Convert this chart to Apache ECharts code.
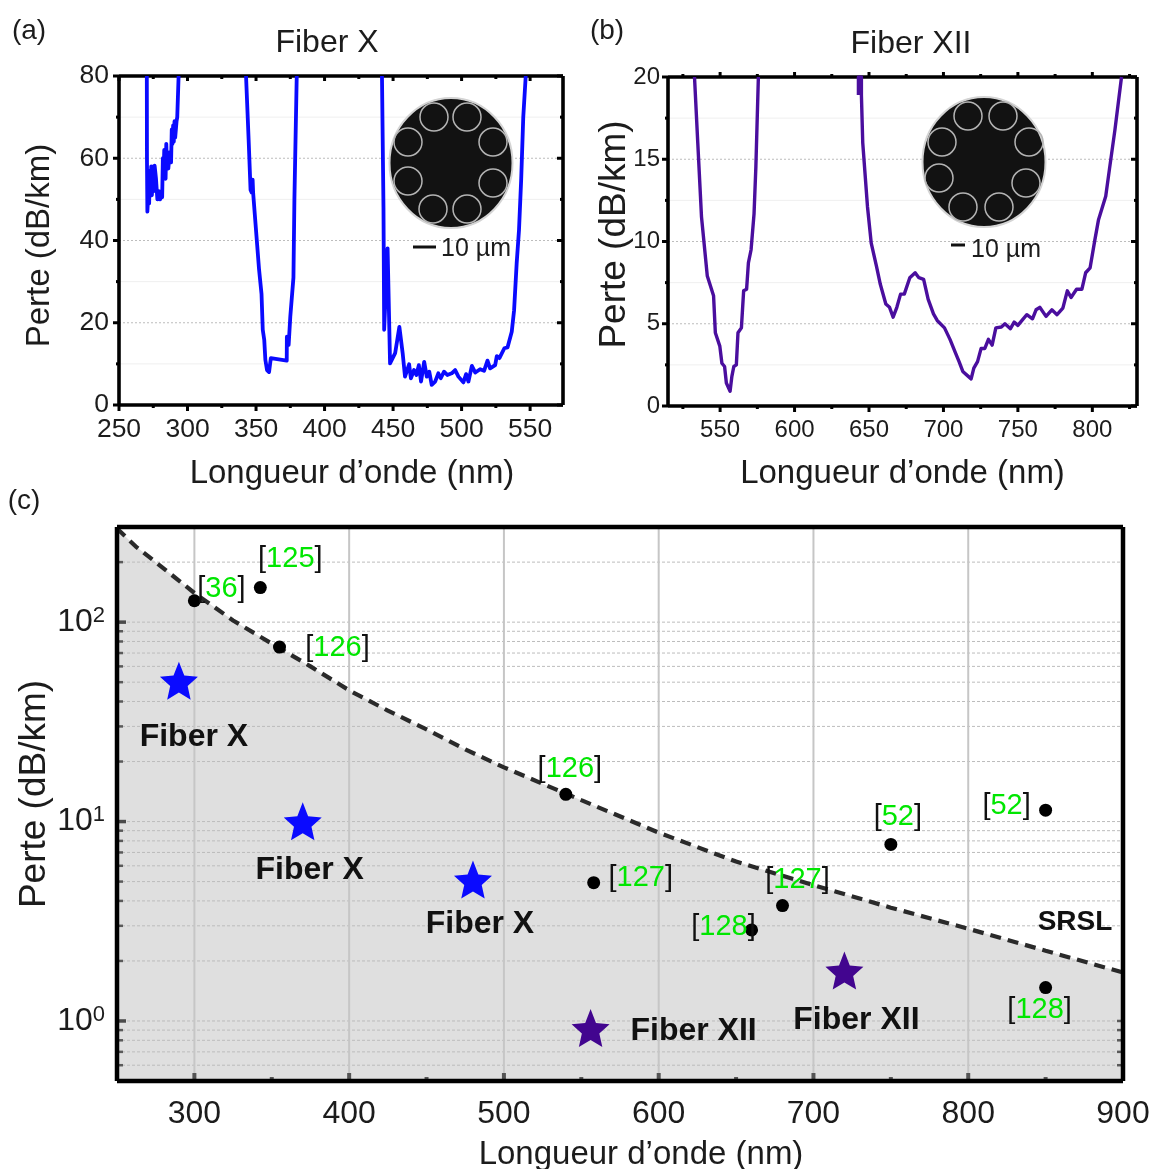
<!DOCTYPE html>
<html><head><meta charset="utf-8">
<style>html,body{margin:0;padding:0;background:#fff}#c{width:1154px;height:1169px}</style>
<script src="https://cdn.jsdelivr.net/npm/echarts@6/dist/echarts.min.js"></script>
</head><body><div id="c"></div>
<script>
// ---------- data ----------
const fiberXBandUV = [[270.3,80],[270.4,60],[270.7,47],[271,46.7],[271.5,52],[272,49],[272.5,57],[273,51],[273.5,58],[274,51],[275,58],[275.5,52],[276,58.2],[277,55],[278,50],[279,52],[280,50],[281,52],[281.5,50.5],[282,60],[282.5,55],[283,62],[284,55],[284.5,63.5],[285,58],[286,57.5],[287,61.5],[288,59],[288.5,67],[289,63.5],[289.5,68],[290,64],[290.5,69],[291,65],[292,69],[292.5,70],[293,75],[293.5,80]];
const fiberXBandMid = [[342.7,80],[344.6,64.5],[346,52.3],[346.8,51.7],[347.5,54.8],[347.9,51.5],[349,51.5],[350.8,39],[352.2,33],[354,27],[354.9,18.3],[356,15.8],[356.8,11],[358,8.5],[359.5,8],[360.8,11.4],[372.4,10.8],[372.5,16.6],[373.8,14.6],[375,21.5],[377.3,31],[378,50],[379.7,80]];
const fiberXBandVis = [[441.9,80],[443,48],[443.5,18.3],[444.5,18.3],[446,38.1],[447.8,10.1],[451.5,12.6],[454.6,19],[457,12.6],[458.7,6.9],[461.7,9.9],[463,6.5],[465.3,8.5],[467,7.3],[468.8,9.7],[470.4,5.7],[472.7,10.5],[474.6,6.9],[476.4,8.1],[478.2,4.9],[480.7,5.7],[483,7.7],[484.8,6.5],[487.2,8.1],[489.6,7.3],[492.8,7.7],[495.3,8.5],[497.7,6.9],[501.3,5.5],[503.3,7.5],[505,5.7],[507.5,9.5],[510,7.9],[513.5,8.7],[516.4,8.3],[518.9,10.8],[520.8,8.9],[524.5,9.7],[525.7,11.9],[527.6,11.4],[531.2,13.8],[533.5,14],[536.6,17.8],[538.3,23],[540.2,34.5],[541.9,42.6],[543.5,55],[545,70],[546.8,80]];
const fiberXIIBandGreen = [[532.8,20],[535,16],[537.5,11.5],[541.4,7.9],[545.6,6.7],[546.8,4.45],[549.8,3.64],[551.2,2.6],[553,2.4],[554.2,1.4],[556.7,0.9],[557.9,1.8],[559.2,2.4],[560.9,2.5],[562,4.45],[564.3,4.75],[565.8,7],[567.8,7.1],[569,8.7],[570.8,9.5],[572.8,11.7],[574,14.5],[575.7,20]];
const fiberXIIBandRed = [[642.9,18.9],[642.9,20],[644.9,20],[644.9,18.9],[645.8,16],[649,12.1],[651.5,9.9],[655,8.5],[657.6,7.4],[661.3,6.2],[663.8,6],[666.2,5.4],[668.7,6],[671.2,6.8],[673.7,6.8],[677.4,7.8],[681,8.1],[683.5,7.8],[686.7,7.7],[689.7,6.5],[693.3,5.6],[695.8,5.2],[700.7,4.75],[704.4,4.05],[708,3.25],[710.5,2.7],[713,2.1],[716.7,1.8],[718.6,1.65],[720.4,2.3],[722.9,2.7],[725.3,3.5],[727.8,3.5],[730.2,4.05],[732.7,3.7],[735.2,4.75],[738.9,4.8],[741.3,5],[745,4.7],[747.5,5.1],[750,4.9],[753.6,5.3],[756,5.55],[759.8,5.3],[762.2,5.85],[764.7,6],[768.9,5.45],[772.8,5.85],[776.3,5.55],[780.2,5.95],[783.2,7],[785.7,6.6],[789.4,7.1],[793,7.1],[795.5,8.1],[798.5,8.4],[801.7,10.1],[804.1,11.3],[809,12.75],[811.5,14.4],[815.2,16.8],[819.6,20]];
const srslCurve = [[250,295],[262,240],[275,200],[300,140],[325,102],[350,78],[375,60],[400,45.5],[425,36],[450,29],[475,23],[500,18.7],[550,12.8],[600,8.8],[650,6.3],[700,4.8],[750,3.7],[800,2.9],[850,2.25],[900,1.75]];
const refPoints = [[300,128],[342.6,149],[355,75],[540,13.7],[558,4.94],[680,3.79],[660,2.86],[750,7.68],[850,11.4],[850,1.47]];
const refLabels = ['36','125','126','126','127','127','128','52','52','128'];
const fiberXStars = [[290,49.7],[370,9.8],[480,5]];
const fiberXIIStars = [[556,0.9],[720,1.75]];
const fiberXName = 'Fiber X', fiberXIIName = 'Fiber XII';
const xTicksA = [250,300,350,400,450,500,550], xMinorA = [275,325,375,425,475,525];
const yTicksA = [0,20,40,60,80], yMinorA = [10,30,50,70];
const xTicksB = [550,600,650,700,750,800], xMinorB = [525,575,625,675,725,775,825];
const yTicksB = [0,5,10,15,20], yMinorB = [2.5,7.5,12.5,17.5];
const xTicksC = [300,400,500,600,700,800,900], xMinorC = [350,450,550,650,750,850];
const yTicksC = [1,10,100], yMinorC = [0.6,0.7,0.8,0.9,2,3,4,5,6,7,8,9,20,30,40,50,60,70,80,90,200];
// ---------- layout ----------
const FONT = '"Liberation Sans", Arial, sans-serif';
const INK = '#1c1c1c';
const STAR = 'path://M50,0 L63.5,34 L97.6,37.1 L71.9,59.7 L79.4,93 L50,75.6 L20.6,93 L28.1,59.7 L2.4,37.1 L36.5,34 Z';
const refOffsets = [[27,-12],[30,-29],[58,1],[4,-25],[47,-5],[15,-26],[-28,-3],[7,-27],[-39,-4],[-6,22]];
const xStarOffsets = [[15,56],[7,49],[7,45]];
const xiiStarOffsets = [[103,3],[12,50]];
const STYLES = {
  frame:{stroke:'#000',lineWidth:3.6},
  frameC:{stroke:'#000',lineWidth:4.5},
  tick:{stroke:'#000',lineWidth:3},
  major:{stroke:'#bdbdbd',lineWidth:1,lineDash:[2,2]},
  faint:{stroke:'#efefef',lineWidth:1},
  gridC:{stroke:'#bcbcbc',lineWidth:1,lineDash:[3,2]},
  vC:{stroke:'#c6c6c6',lineWidth:2},
  tickC:{stroke:'#4a4a4a',lineWidth:3.5},
  tickCm:{stroke:'#5a5a5a',lineWidth:2.5},
  tickCb:{stroke:'#555',lineWidth:4}
};
const styleNames = Object.keys(STYLES);
const S = n => styleNames.indexOf(n);

function rules(idx, list, z){
  return {type:'custom',xAxisIndex:idx,yAxisIndex:idx,silent:true,z:z,clip:false,animation:false,
    encode:{x:0,y:1},data:list,
    renderItem(p,api){
      const a=api.coord([api.value(0),api.value(1)]), b=api.coord([api.value(2),api.value(3)]);
      return {type:'line',shape:{x1:a[0],y1:a[1],x2:b[0]+api.value(4),y2:b[1]+api.value(5)},
        style:Object.assign({fill:null},STYLES[styleNames[api.value(6)]])};
    }};
}
function panelRules(x0,x1,y0,y1,xT,xM,yT,yM,topOut){
  const r=[];
  yM.forEach(v=>r.push([x0,v,x1,v,0,0,S('faint')]));
  yT.filter(v=>v>y0&&v<y1).forEach(v=>r.push([x0,v,x1,v,0,0,S('major')]));
  xT.forEach(v=>{r.push([v,y0,v,y0,0,6,S('tick')]);r.push([v,y1,v,y1,0,topOut?-5:5,S('tick')]);});
  xM.forEach(v=>{r.push([v,y0,v,y0,0,3,S('tick')]);r.push([v,y1,v,y1,0,topOut?-3:3,S('tick')]);});
  yT.forEach(v=>{r.push([x0,v,x0,v,-6,0,S('tick')]);r.push([x1,v,x1,v,-6,0,S('tick')]);});
  yM.forEach(v=>{r.push([x0,v,x0,v,-3,0,S('tick')]);r.push([x1,v,x1,v,-3,0,S('tick')]);});
  r.push([x0,y0,x1,y0,0,0,S('frame')],[x0,y1,x1,y1,0,0,S('frame')],[x0,y0,x0,y1,0,0,S('frame')],[x1,y0,x1,y1,0,0,S('frame')]);
  return r;
}
const XA=[250,574],YA=[0,80],XB=[515,830],YB=[0,20],XC=[250,900],YC=[0.5,300];
const rulesCunder=[];
yMinorC.concat(yTicksC).forEach(v=>rulesCunder.push([XC[0],v,XC[1],v,0,0,S('gridC')]));
xTicksC.slice(0,-1).forEach(v=>rulesCunder.push([v,YC[0],v,YC[1],0,0,S('vC')]));
const rulesCover=[];
yTicksC.forEach(v=>rulesCover.push([XC[0],v,XC[0],v,9,0,S('tickC')]));
yMinorC.concat([300]).forEach(v=>rulesCover.push([XC[0],v,XC[0],v,6,0,S('tickCm')]));
xTicksC.slice(0,-1).forEach(v=>rulesCover.push([v,YC[0],v,YC[0],0,-8,S('tickCb')]));
xMinorC.forEach(v=>rulesCover.push([v,YC[0],v,YC[0],0,-4,S('tickCb')]));
yMinorC.filter(v=>v<1.7).concat([1]).forEach(v=>rulesCover.push([XC[1],v,XC[1],v,-6,0,S('tickCm')]));
rulesCover.push([XC[0],YC[0],XC[1],YC[0],0,0,S('frameC')],[XC[0],YC[1],XC[1],YC[1],0,0,S('frameC')],[XC[0],YC[0],XC[0],YC[1],0,0,S('frameC')],[XC[1],YC[0],XC[1],YC[1],0,0,S('frameC')]);

const line=(idx,data,color)=>({type:'line',xAxisIndex:idx,yAxisIndex:idx,data,showSymbol:false,symbol:'none',z:3,
  lineStyle:{color,width:idx===0?3.8:3.4,join:'round'},itemStyle:{color},animation:false,silent:true,clip:true});

const axisBase=(fs)=>({axisTick:{show:false},axisLine:{show:false},splitLine:{show:false},minorSplitLine:{show:false},nameMoveOverlap:false,
  axisLabel:{fontFamily:FONT,fontSize:fs,color:INK,margin:11,hideOverlap:false}});
const nameStyle=(fs,padding)=>({fontFamily:FONT,fontSize:fs,color:INK,padding});

const refData=refPoints.map((p,i)=>({value:p,label:{show:true,position:'inside',offset:refOffsets[i],
  formatter:'{k|[}{g|'+refLabels[i]+'}{k|]}',rich:{k:{color:'#111',fontSize:29,fontFamily:FONT},g:{color:'#00e600',fontSize:29,fontFamily:FONT}}}}));
const star=(arr,offs,name,color)=>arr.map((p,i)=>({value:p,itemStyle:{color,opacity:1},label:{show:true,position:'inside',offset:offs[i],formatter:name,
  fontFamily:FONT,fontWeight:'bold',fontSize:32,color:'#111'}}));

function fiber(cx,cy,rings){
  const kids=[{type:'ellipse',shape:{cx,cy,rx:61.5,ry:65},style:{fill:'#121212',stroke:'#d4d4d4',lineWidth:2},z:20}];
  rings.forEach(r=>kids.push({type:'circle',shape:{cx:r[0],cy:r[1],r:14},style:{fill:null,stroke:'#b4b4b4',lineWidth:1.5},z:21}));
  return kids;
}
const text=(x,y,t,fs,extra)=>Object.assign({type:'text',x,y,z:30,style:Object.assign({text:t,fontFamily:FONT,fontSize:fs,fill:INK,textAlign:'center',textVerticalAlign:'middle'},extra||{})});

const graphic=[].concat(
  fiber(451,163,[[434,117],[467,117],[408,142],[493,142],[408,181],[493,183],[433,209],[467,209]]),
  fiber(984,162,[[968,116],[1003,116],[942,142],[1029,142],[939,178],[1026,183],[963,207],[999,207]]),
  [
   {type:'rect',shape:{x:413,y:245.5,width:23,height:3},style:{fill:'#111'},z:30},
   {type:'rect',shape:{x:951,y:243.5,width:14,height:3},style:{fill:'#111'},z:30},
   text(476,249,'10 µm',25),text(1006,250,'10 µm',25),
   text(29,31,'(a)',28),text(607,31,'(b)',28),text(24,501,'(c)',28),
   text(327,43,'Fiber X',32),text(911,44,'Fiber XII',32),
   text(1075,922,'SRSL',28,{fontWeight:'bold',fill:'#111'})
  ]);

const option={
  animation:false,backgroundColor:'#fff',textStyle:{fontFamily:FONT},
  grid:[
    {left:119,top:76,width:444,height:329,show:false,outerBoundsMode:'none'},
    {left:668,top:77,width:469,height:329,show:false,outerBoundsMode:'none'},
    {left:117,top:527,width:1006,height:554,show:false,outerBoundsMode:'none'}
  ],
  xAxis:[
    Object.assign(axisBase(26.5),{type:'value',gridIndex:0,min:XA[0],max:XA[1],position:'bottom',
      axisLabel:Object.assign(axisBase(26.5).axisLabel,{customValues:xTicksA}),
      name:'Longueur d’onde (nm)',nameLocation:'middle',nameGap:52,nameTextStyle:nameStyle(33,[0,0,0,22])}),
    Object.assign(axisBase(24),{type:'value',gridIndex:1,min:XB[0],max:XB[1],position:'bottom',
      axisLabel:Object.assign(axisBase(24).axisLabel,{customValues:xTicksB,margin:12}),
      name:'Longueur d’onde (nm)',nameLocation:'middle',nameGap:51,nameTextStyle:nameStyle(33)}),
    Object.assign(axisBase(32),{type:'value',gridIndex:2,min:XC[0],max:XC[1],position:'bottom',
      axisLabel:Object.assign(axisBase(32).axisLabel,{customValues:xTicksC,margin:17}),
      name:'Longueur d’onde (nm)',nameLocation:'middle',nameGap:57,nameTextStyle:nameStyle(33,[0,0,0,42])})
  ],
  yAxis:[
    Object.assign(axisBase(26.5),{type:'value',gridIndex:0,min:YA[0],max:YA[1],interval:20,
      axisLabel:Object.assign(axisBase(26.5).axisLabel,{margin:10}),
      name:'Perte (dB/km)',nameLocation:'middle',nameGap:63,nameTextStyle:nameStyle(33,[0,10,0,0])}),
    Object.assign(axisBase(24),{type:'value',gridIndex:1,min:YB[0],max:YB[1],interval:5,
      axisLabel:Object.assign(axisBase(24).axisLabel,{margin:8}),
      name:'Perte (dB/km)',nameLocation:'middle',nameGap:35,nameTextStyle:nameStyle(37,[0,0,0,14])}),
    Object.assign(axisBase(32),{type:'log',logBase:10,gridIndex:2,min:YC[0],max:YC[1],
      axisLabel:Object.assign(axisBase(32).axisLabel,{margin:12,
        formatter:v=>{const e=Math.log10(v);if(Math.abs(e-Math.round(e))>1e-6)return '';return '{b|10}{s|'+Math.round(e)+'}';},
        rich:{b:{fontSize:32,fontFamily:FONT,color:INK},s:{fontSize:22,fontFamily:FONT,color:INK,padding:[0,0,13,0]}}}),
      name:'Perte (dB/km)',nameLocation:'middle',nameGap:64,nameTextStyle:nameStyle(37,[0,0,0,20])})
  ],
  series:[
    rules(0,panelRules(XA[0],XA[1],YA[0],YA[1],xTicksA,xMinorA,yTicksA,yMinorA,false),2),
    line(0,fiberXBandUV,'#0a0aff'),line(0,fiberXBandMid,'#0a0aff'),line(0,fiberXBandVis,'#0a0aff'),
    rules(1,panelRules(XB[0],XB[1],YB[0],YB[1],xTicksB,xMinorB,yTicksB,yMinorB,true),2),
    line(1,fiberXIIBandGreen,'#4a0e9e'),line(1,fiberXIIBandRed,'#4a0e9e'),
    {type:'line',name:'SRSL fill',xAxisIndex:2,yAxisIndex:2,data:srslCurve,symbol:'none',showSymbol:false,z:1,silent:true,animation:false,
      lineStyle:{width:0},areaStyle:{color:'#dfdfdf',opacity:1,origin:'start'}},
    rules(2,rulesCunder,2),
    rules(2,rulesCover,5),
    {type:'line',name:'SRSL',xAxisIndex:2,yAxisIndex:2,data:srslCurve,symbol:'none',showSymbol:false,z:3,silent:true,animation:false,
      lineStyle:{color:'#2a2a2a',width:4.2,type:[11,7]}},
    {type:'scatter',xAxisIndex:2,yAxisIndex:2,symbol:'circle',symbolSize:13,itemStyle:{color:'#000',opacity:1},z:4,data:refData,silent:true,animation:false},
    {type:'scatter',xAxisIndex:2,yAxisIndex:2,symbol:STAR,symbolSize:38,symbolOffset:[0,-2],z:4,data:star(fiberXStars,xStarOffsets,fiberXName,'#0a0aff'),silent:true,animation:false},
    {type:'scatter',xAxisIndex:2,yAxisIndex:2,symbol:STAR,symbolSize:38,symbolOffset:[0,-2],z:4,data:star(fiberXIIStars,xiiStarOffsets,fiberXIIName,'#42058f'),silent:true,animation:false}
  ],
  graphic
};
const chart=echarts.init(document.getElementById('c'),null,{renderer:'canvas',width:1154,height:1169});
chart.setOption(option);
</script></body></html>
